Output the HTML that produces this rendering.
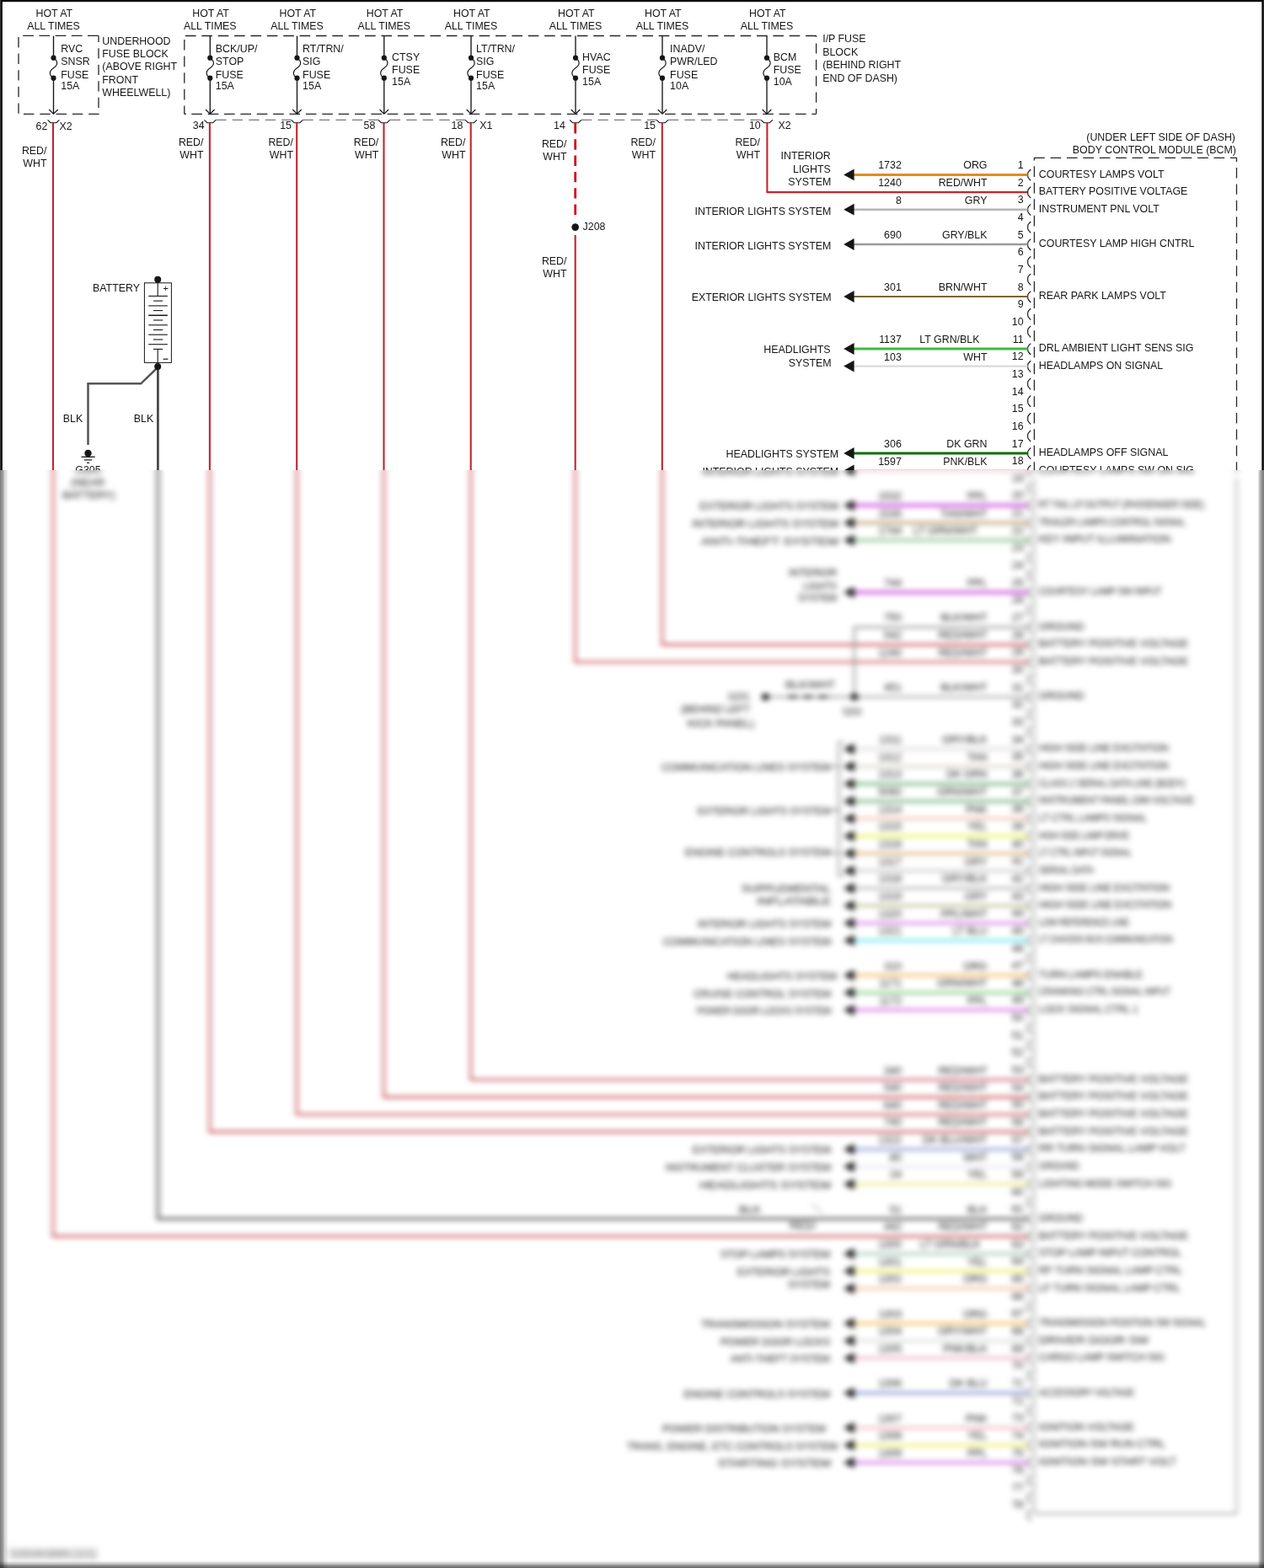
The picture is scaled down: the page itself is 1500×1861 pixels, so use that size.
<!DOCTYPE html>
<html><head><meta charset="utf-8"><title>BCM Wiring Diagram</title>
<style>
html,body{margin:0;padding:0;background:#fff;}
body{width:1500px;height:1861px;position:relative;overflow:hidden;}
svg{position:absolute;left:0;top:0;display:block;}
svg text{font-family:"Liberation Sans",Arial,sans-serif;}
#bl{position:absolute;left:0;top:558px;width:11px;height:1303px;mix-blend-mode:multiply;
  background:linear-gradient(to right,#808080 0.5px,#8a8a8a 1.5px,#969696 2.5px,#a2a2a2 3.5px,#b8b8b8 4.5px,#d4d4d4 5.5px,#dcdcdc 6.5px,#e2e2e2 7.5px,#f0f0f0 8.5px,#f8f8f8 9.5px,#fff 10.5px);}
#br{position:absolute;left:1490px;top:558px;width:10px;height:1303px;mix-blend-mode:multiply;
  background:linear-gradient(to right,#fff 2.2px,#e8e8e8 3.5px,#c8c8c8 4.5px,#b0b0b0 5.5px,#a0a0a0 6.5px,#909090 7.5px,#868686 8.5px,#7f7f7f 9.5px);}
#bb{position:absolute;left:0;top:1850px;width:1500px;height:11px;mix-blend-mode:multiply;
  background:linear-gradient(to bottom,#fff 1.5px,#f8f8f8 2.5px,#f0f0f0 3.5px,#d8d8d8 4.5px,#cccccc 5.5px,#bbbbbb 6.5px,#a0a0a0 7.5px,#8a8a8a 8.5px,#7a7a7a 9.5px,#6e6e6e 10.5px);}
</style></head><body>
<svg width="1500" height="1861" viewBox="0 0 1500 1861">
<defs><clipPath id="ct"><rect x="0" y="0" width="1500" height="558"/></clipPath><clipPath id="cb"><rect x="0" y="558" width="1500" height="1303"/></clipPath><filter id="bf" x="-20" y="-20" width="1540" height="1901" filterUnits="userSpaceOnUse" color-interpolation-filters="sRGB"><feGaussianBlur stdDeviation="3.9 3.3" edgeMode="none"/></filter></defs>
<rect x="0" y="0" width="1500" height="1861" fill="#fff"/>
<g clip-path="url(#ct)">
<g id="all" font-family="Liberation Sans, Arial, sans-serif" font-size="12.4" fill="#161616">
<rect x="0" y="0" width="1500" height="1861" fill="#fff"/>
<line x1="22.0" y1="42.4" x2="117.0" y2="42.4" stroke="#262626" stroke-width="1.3" stroke-dasharray="12.8 6.4" stroke-dashoffset="14.00"/>
<line x1="117.0" y1="42.4" x2="117.0" y2="135.3" stroke="#262626" stroke-width="1.3" stroke-dasharray="12.4 7.1" stroke-dashoffset="4.70"/>
<line x1="22.0" y1="135.3" x2="117.6" y2="135.3" stroke="#262626" stroke-width="1.3" stroke-dasharray="12.4 6.9" stroke-dashoffset="13.30"/>
<line x1="22.0" y1="42.4" x2="22.0" y2="135.3" stroke="#262626" stroke-width="1.3" stroke-dasharray="12.4 7.2" stroke-dashoffset="18.00"/>
<line x1="218.8" y1="42.5" x2="968.6" y2="42.5" stroke="#262626" stroke-width="1.3" stroke-dasharray="12.6 6.77" stroke-dashoffset="18.17"/>
<line x1="968.6" y1="42.5" x2="968.6" y2="135.3" stroke="#262626" stroke-width="1.3" stroke-dasharray="12.1 7.3" stroke-dashoffset="10.50"/>
<line x1="218.8" y1="135.3" x2="968.6" y2="135.3" stroke="#262626" stroke-width="1.3" stroke-dasharray="12.6 6.77" stroke-dashoffset="10.87"/>
<line x1="218.8" y1="42.5" x2="218.8" y2="135.3" stroke="#262626" stroke-width="1.3" stroke-dasharray="12.6 7.0" stroke-dashoffset="15.10"/>
<line x1="218.8" y1="135.3" x2="220.6" y2="135.3" stroke="#262626" stroke-width="1.3"/>
<text x="121.3" y="52.7">UNDERHOOD</text>
<text x="121.3" y="68.2">FUSE BLOCK</text>
<text x="121.3" y="83.4">(ABOVE RIGHT</text>
<text x="121.3" y="98.9">FRONT</text>
<text x="121.3" y="114.3">WHEELWELL)</text>
<text x="976.2" y="50.4">I/P FUSE</text>
<text x="976.2" y="65.8">BLOCK</text>
<text x="976.2" y="81.3">(BEHIND RIGHT</text>
<text x="976.2" y="96.8">END OF DASH)</text>
<line x1="256.2" y1="142.4" x2="345.6" y2="142.4" stroke="#7a7a7a" stroke-width="1.1" stroke-dasharray="12.4 7.1" stroke-dashoffset="0.00"/>
<line x1="359.4" y1="142.4" x2="448.9" y2="142.4" stroke="#7a7a7a" stroke-width="1.1" stroke-dasharray="12.4 7.1" stroke-dashoffset="0.00"/>
<line x1="462.7" y1="142.4" x2="552.1" y2="142.4" stroke="#7a7a7a" stroke-width="1.1" stroke-dasharray="12.4 7.1" stroke-dashoffset="0.00"/>
<line x1="689.9" y1="142.4" x2="779.1" y2="142.4" stroke="#7a7a7a" stroke-width="1.1" stroke-dasharray="12.4 7.1" stroke-dashoffset="0.00"/>
<line x1="792.9" y1="142.4" x2="903.1" y2="142.4" stroke="#7a7a7a" stroke-width="1.1" stroke-dasharray="12.4 7.1" stroke-dashoffset="0.00"/>
<line x1="63.5" y1="42.6" x2="63.5" y2="68.7" stroke="#161616" stroke-width="1.35"/>
<line x1="63.5" y1="92.7" x2="63.5" y2="135.0" stroke="#161616" stroke-width="1.35"/>
<path d="M63.5,68.7 C69.5,72.5 68.5,77.5 63.5,80.7 S57.5,89 63.5,92.7" fill="none" stroke="#161616" stroke-width="1.2"/>
<circle cx="63.5" cy="68.7" r="3.1" fill="#161616"/>
<circle cx="63.5" cy="92.7" r="3.1" fill="#161616"/>
<polyline points="58.2,130.0 63.5,135.2 68.8,130.0" fill="none" stroke="#161616" stroke-width="1.2"/>
<text x="72.3" y="61.7">RVC</text>
<text x="72.3" y="77.2">SNSR</text>
<text x="72.3" y="92.5">FUSE</text>
<text x="72.3" y="106.3">15A</text>
<text x="64.3" y="19.7" text-anchor="middle">HOT AT</text>
<text x="63.5" y="35.0" text-anchor="middle">ALL TIMES</text>
<path d="M56.6,142.4 L60.1,145.7 L66.9,145.7 L70.4,142.4" fill="none" stroke="#161616" stroke-width="1.1"/>
<text x="56.3" y="154.3" text-anchor="end">62</text>
<text x="70.4" y="154.3">X2</text>
<text x="55.5" y="182.7" text-anchor="end">RED/</text>
<text x="55.5" y="197.9" text-anchor="end">WHT</text>
<line x1="249.3" y1="42.6" x2="249.3" y2="68.7" stroke="#161616" stroke-width="1.35"/>
<line x1="249.3" y1="92.7" x2="249.3" y2="135.0" stroke="#161616" stroke-width="1.35"/>
<path d="M249.3,68.7 C255.3,72.5 254.3,77.5 249.3,80.7 S243.3,89 249.3,92.7" fill="none" stroke="#161616" stroke-width="1.2"/>
<circle cx="249.3" cy="68.7" r="3.1" fill="#161616"/>
<circle cx="249.3" cy="92.7" r="3.1" fill="#161616"/>
<polyline points="244.0,130.0 249.3,135.2 254.6,130.0" fill="none" stroke="#161616" stroke-width="1.2"/>
<text x="255.8" y="61.7">BCK/UP/</text>
<text x="255.8" y="77.2">STOP</text>
<text x="255.8" y="92.5">FUSE</text>
<text x="255.8" y="106.3">15A</text>
<text x="250.1" y="19.7" text-anchor="middle">HOT AT</text>
<text x="249.3" y="35.0" text-anchor="middle">ALL TIMES</text>
<path d="M242.4,142.4 L245.9,145.7 L252.7,145.7 L256.2,142.4" fill="none" stroke="#161616" stroke-width="1.1"/>
<text x="242.6" y="153.3" text-anchor="end">34</text>
<text x="241.5" y="173.2" text-anchor="end">RED/</text>
<text x="241.5" y="188.4" text-anchor="end">WHT</text>
<line x1="352.5" y1="42.6" x2="352.5" y2="68.7" stroke="#161616" stroke-width="1.35"/>
<line x1="352.5" y1="92.7" x2="352.5" y2="135.0" stroke="#161616" stroke-width="1.35"/>
<path d="M352.5,68.7 C358.5,72.5 357.5,77.5 352.5,80.7 S346.5,89 352.5,92.7" fill="none" stroke="#161616" stroke-width="1.2"/>
<circle cx="352.5" cy="68.7" r="3.1" fill="#161616"/>
<circle cx="352.5" cy="92.7" r="3.1" fill="#161616"/>
<polyline points="347.2,130.0 352.5,135.2 357.8,130.0" fill="none" stroke="#161616" stroke-width="1.2"/>
<text x="359.1" y="61.7">RT/TRN/</text>
<text x="359.1" y="77.2">SIG</text>
<text x="359.1" y="92.5">FUSE</text>
<text x="359.1" y="106.3">15A</text>
<text x="353.3" y="19.7" text-anchor="middle">HOT AT</text>
<text x="352.5" y="35.0" text-anchor="middle">ALL TIMES</text>
<path d="M345.6,142.4 L349.1,145.7 L355.9,145.7 L359.4,142.4" fill="none" stroke="#161616" stroke-width="1.1"/>
<text x="346.0" y="153.3" text-anchor="end">15</text>
<text x="348.0" y="173.2" text-anchor="end">RED/</text>
<text x="348.0" y="188.4" text-anchor="end">WHT</text>
<line x1="455.8" y1="42.6" x2="455.8" y2="68.7" stroke="#161616" stroke-width="1.35"/>
<line x1="455.8" y1="92.7" x2="455.8" y2="135.0" stroke="#161616" stroke-width="1.35"/>
<path d="M455.8,68.7 C461.8,72.5 460.8,77.5 455.8,80.7 S449.8,89 455.8,92.7" fill="none" stroke="#161616" stroke-width="1.2"/>
<circle cx="455.8" cy="68.7" r="3.1" fill="#161616"/>
<circle cx="455.8" cy="92.7" r="3.1" fill="#161616"/>
<polyline points="450.5,130.0 455.8,135.2 461.1,130.0" fill="none" stroke="#161616" stroke-width="1.2"/>
<text x="465.1" y="71.8">CTSY</text>
<text x="465.1" y="87.3">FUSE</text>
<text x="465.1" y="100.8">15A</text>
<text x="456.6" y="19.7" text-anchor="middle">HOT AT</text>
<text x="455.8" y="35.0" text-anchor="middle">ALL TIMES</text>
<path d="M448.9,142.4 L452.4,145.7 L459.2,145.7 L462.7,142.4" fill="none" stroke="#161616" stroke-width="1.1"/>
<text x="445.3" y="153.3" text-anchor="end">58</text>
<text x="449.3" y="173.2" text-anchor="end">RED/</text>
<text x="449.3" y="188.4" text-anchor="end">WHT</text>
<line x1="559.0" y1="42.6" x2="559.0" y2="68.7" stroke="#161616" stroke-width="1.35"/>
<line x1="559.0" y1="92.7" x2="559.0" y2="135.0" stroke="#161616" stroke-width="1.35"/>
<path d="M559.0,68.7 C565.0,72.5 564.0,77.5 559.0,80.7 S553.0,89 559.0,92.7" fill="none" stroke="#161616" stroke-width="1.2"/>
<circle cx="559.0" cy="68.7" r="3.1" fill="#161616"/>
<circle cx="559.0" cy="92.7" r="3.1" fill="#161616"/>
<polyline points="553.7,130.0 559.0,135.2 564.3,130.0" fill="none" stroke="#161616" stroke-width="1.2"/>
<text x="565.1" y="61.7">LT/TRN/</text>
<text x="565.1" y="77.2">SIG</text>
<text x="565.1" y="92.5">FUSE</text>
<text x="565.1" y="106.3">15A</text>
<text x="559.8" y="19.7" text-anchor="middle">HOT AT</text>
<text x="559.0" y="35.0" text-anchor="middle">ALL TIMES</text>
<path d="M552.1,142.4 L555.6,145.7 L562.4,145.7 L565.9,142.4" fill="none" stroke="#161616" stroke-width="1.1"/>
<text x="549.3" y="153.3" text-anchor="end">18</text>
<text x="569.3" y="153.3">X1</text>
<text x="552.5" y="173.2" text-anchor="end">RED/</text>
<text x="552.5" y="188.4" text-anchor="end">WHT</text>
<line x1="683.0" y1="42.6" x2="683.0" y2="68.7" stroke="#161616" stroke-width="1.35"/>
<line x1="683.0" y1="92.7" x2="683.0" y2="135.0" stroke="#161616" stroke-width="1.35"/>
<path d="M683.0,68.7 C689.0,72.5 688.0,77.5 683.0,80.7 S677.0,89 683.0,92.7" fill="none" stroke="#161616" stroke-width="1.2"/>
<circle cx="683.0" cy="68.7" r="3.1" fill="#161616"/>
<circle cx="683.0" cy="92.7" r="3.1" fill="#161616"/>
<polyline points="677.7,130.0 683.0,135.2 688.3,130.0" fill="none" stroke="#161616" stroke-width="1.2"/>
<text x="691.1" y="71.8">HVAC</text>
<text x="691.1" y="87.3">FUSE</text>
<text x="691.1" y="100.8">15A</text>
<text x="683.8" y="19.7" text-anchor="middle">HOT AT</text>
<text x="683.0" y="35.0" text-anchor="middle">ALL TIMES</text>
<path d="M676.1,142.4 L679.6,145.7 L686.4,145.7 L689.9,142.4" fill="none" stroke="#161616" stroke-width="1.1"/>
<text x="670.8" y="153.3" text-anchor="end">14</text>
<text x="672.5" y="175.0" text-anchor="end">RED/</text>
<text x="672.5" y="190.2" text-anchor="end">WHT</text>
<line x1="786.0" y1="42.6" x2="786.0" y2="68.7" stroke="#161616" stroke-width="1.35"/>
<line x1="786.0" y1="92.7" x2="786.0" y2="135.0" stroke="#161616" stroke-width="1.35"/>
<path d="M786.0,68.7 C792.0,72.5 791.0,77.5 786.0,80.7 S780.0,89 786.0,92.7" fill="none" stroke="#161616" stroke-width="1.2"/>
<circle cx="786.0" cy="68.7" r="3.1" fill="#161616"/>
<circle cx="786.0" cy="92.7" r="3.1" fill="#161616"/>
<polyline points="780.7,130.0 786.0,135.2 791.3,130.0" fill="none" stroke="#161616" stroke-width="1.2"/>
<text x="795.1" y="61.7">INADV/</text>
<text x="795.1" y="77.2">PWR/LED</text>
<text x="795.1" y="92.5">FUSE</text>
<text x="795.1" y="106.3">10A</text>
<text x="786.8" y="19.7" text-anchor="middle">HOT AT</text>
<text x="786.0" y="35.0" text-anchor="middle">ALL TIMES</text>
<path d="M779.1,142.4 L782.6,145.7 L789.4,145.7 L792.9,142.4" fill="none" stroke="#161616" stroke-width="1.1"/>
<text x="778.0" y="153.3" text-anchor="end">15</text>
<text x="778.0" y="173.2" text-anchor="end">RED/</text>
<text x="778.0" y="188.4" text-anchor="end">WHT</text>
<line x1="910.0" y1="42.6" x2="910.0" y2="68.7" stroke="#161616" stroke-width="1.35"/>
<line x1="910.0" y1="92.7" x2="910.0" y2="135.0" stroke="#161616" stroke-width="1.35"/>
<path d="M910.0,68.7 C916.0,72.5 915.0,77.5 910.0,80.7 S904.0,89 910.0,92.7" fill="none" stroke="#161616" stroke-width="1.2"/>
<circle cx="910.0" cy="68.7" r="3.1" fill="#161616"/>
<circle cx="910.0" cy="92.7" r="3.1" fill="#161616"/>
<polyline points="904.7,130.0 910.0,135.2 915.3,130.0" fill="none" stroke="#161616" stroke-width="1.2"/>
<text x="917.8" y="71.8">BCM</text>
<text x="917.8" y="87.3">FUSE</text>
<text x="917.8" y="100.8">10A</text>
<text x="910.8" y="19.7" text-anchor="middle">HOT AT</text>
<text x="910.0" y="35.0" text-anchor="middle">ALL TIMES</text>
<path d="M903.1,142.4 L906.6,145.7 L913.4,145.7 L916.9,142.4" fill="none" stroke="#161616" stroke-width="1.1"/>
<text x="902.7" y="153.3" text-anchor="end">10</text>
<text x="923.5" y="153.3">X2</text>
<text x="902.0" y="173.2" text-anchor="end">RED/</text>
<text x="902.0" y="188.4" text-anchor="end">WHT</text>
<polyline points="63.0,145.7 63.0,1467.4 1219.5,1467.4" fill="none" stroke="#c0262e" stroke-width="2.1"/>
<polyline points="248.9,145.7 248.9,1343.4 1219.5,1343.4" fill="none" stroke="#c0262e" stroke-width="2.1"/>
<polyline points="352.2,145.7 352.2,1322.8 1219.5,1322.8" fill="none" stroke="#c0262e" stroke-width="2.1"/>
<polyline points="455.5,145.7 455.5,1302.1 1219.5,1302.1" fill="none" stroke="#c0262e" stroke-width="2.1"/>
<polyline points="558.7,145.7 558.7,1281.5 1219.5,1281.5" fill="none" stroke="#c0262e" stroke-width="2.1"/>
<polyline points="785.8,145.7 785.8,765.1 1219.5,765.1" fill="none" stroke="#c0262e" stroke-width="2.1"/>
<polyline points="910.4,145.7 910.4,228.1 1219.5,228.1" fill="none" stroke="#c0262e" stroke-width="2.1"/>
<line x1="682.7" y1="146.0" x2="682.7" y2="256.0" stroke="#d0121c" stroke-width="2.8" stroke-dasharray="12.4 6.9"/>
<circle cx="682.7" cy="269.6" r="4.3" fill="#161616"/>
<text x="691.6" y="273.0">J208</text>
<polyline points="682.7,279.0 682.7,785.7 1219.5,785.7" fill="none" stroke="#c0262e" stroke-width="2.1"/>
<text x="672.5" y="313.8" text-anchor="end">RED/</text>
<text x="672.5" y="329.2" text-anchor="end">WHT</text>
<rect x="171.4" y="335.8" width="32" height="94.6" fill="none" stroke="#161616" stroke-width="1"/>
<circle cx="187.2" cy="331.8" r="4.0" fill="#161616"/>
<line x1="187.2" y1="331.8" x2="187.2" y2="351.4" stroke="#161616" stroke-width="1.1"/>
<line x1="176.2" y1="351.4" x2="198.8" y2="351.4" stroke="#161616" stroke-width="1.1"/>
<line x1="182.0" y1="357.1" x2="193.2" y2="357.1" stroke="#161616" stroke-width="1.1"/>
<line x1="176.2" y1="362.9" x2="198.8" y2="362.9" stroke="#161616" stroke-width="1.1"/>
<line x1="182.0" y1="368.6" x2="193.2" y2="368.6" stroke="#161616" stroke-width="1.1"/>
<line x1="176.2" y1="374.3" x2="198.8" y2="374.3" stroke="#161616" stroke-width="1.5"/>
<line x1="182.0" y1="380.0" x2="193.2" y2="380.0" stroke="#161616" stroke-width="1.1"/>
<line x1="176.2" y1="385.8" x2="198.8" y2="385.8" stroke="#161616" stroke-width="1.1"/>
<line x1="182.0" y1="391.5" x2="193.2" y2="391.5" stroke="#161616" stroke-width="1.1"/>
<line x1="176.2" y1="397.2" x2="198.8" y2="397.2" stroke="#161616" stroke-width="1.1"/>
<line x1="182.0" y1="403.0" x2="193.2" y2="403.0" stroke="#161616" stroke-width="1.1"/>
<line x1="176.2" y1="408.7" x2="198.8" y2="408.7" stroke="#161616" stroke-width="1.1"/>
<line x1="182.0" y1="414.4" x2="193.2" y2="414.4" stroke="#161616" stroke-width="1.1"/>
<line x1="187.2" y1="414.4" x2="187.2" y2="430.4" stroke="#161616" stroke-width="1.1"/>
<text x="196.6" y="345.5" text-anchor="middle" font-size="11">+</text>
<line x1="193.6" y1="426.2" x2="199.4" y2="426.2" stroke="#161616" stroke-width="1.2"/>
<text x="166.0" y="345.6" text-anchor="end">BATTERY</text>
<polyline points="187.2,436 167.2,455.3 104.5,455.3 104.5,528" fill="none" stroke="#555555" stroke-width="2.5"/>
<polyline points="187.4,436 187.4,1446.7 1219.5,1446.7" fill="none" stroke="#4a4a4a" stroke-width="2.8"/>
<circle cx="187.2" cy="435.0" r="4.0" fill="#161616"/>
<text x="98.2" y="500.6" text-anchor="end">BLK</text>
<text x="182.2" y="500.6" text-anchor="end">BLK</text>
<circle cx="104.5" cy="538.0" r="4.2" fill="#161616"/>
<line x1="96.5" y1="542.3" x2="112.7" y2="542.3" stroke="#161616" stroke-width="1.3"/>
<line x1="99.8" y1="545.9" x2="109.2" y2="545.9" stroke="#161616" stroke-width="1.2"/>
<line x1="103.0" y1="549.3" x2="106.2" y2="549.3" stroke="#161616" stroke-width="1.2"/>
<text x="104.5" y="562.0" text-anchor="middle">G305</text>
<text x="104.2" y="577.0" text-anchor="middle" textLength="40.0" lengthAdjust="spacingAndGlyphs">(NEAR</text>
<text x="105.5" y="592.4" text-anchor="middle" textLength="62.0" lengthAdjust="spacingAndGlyphs">BATTERY)</text>
<line x1="1227.1" y1="187.3" x2="1467.6" y2="187.3" stroke="#262626" stroke-width="1.3" stroke-dasharray="12.7 6.7" stroke-dashoffset="0.00"/>
<line x1="1227.4" y1="187.3" x2="1227.4" y2="568.0" stroke="#262626" stroke-width="1.3" stroke-dasharray="12.8 6.7" stroke-dashoffset="9.50"/>
<line x1="1467.5" y1="187.3" x2="1467.5" y2="568.0" stroke="#262626" stroke-width="1.3" stroke-dasharray="12.4 7.0" stroke-dashoffset="7.70"/>
<line x1="1227.4" y1="568.0" x2="1227.4" y2="1796.5" stroke="#262626" stroke-width="1.3" stroke-opacity="0.62"/>
<line x1="1467.5" y1="568.0" x2="1467.5" y2="1796.5" stroke="#262626" stroke-width="1.3" stroke-opacity="0.62"/>
<line x1="1227.4" y1="1796.5" x2="1467.5" y2="1796.5" stroke="#262626" stroke-width="1.3" stroke-opacity="0.62"/>
<text x="1466.0" y="167.0" text-anchor="end">(UNDER LEFT SIDE OF DASH)</text>
<text x="1467.0" y="182.4" text-anchor="end">BODY CONTROL MODULE (BCM)</text>
<path d="M1223.2,201.0 L1220.6,203.8 Q1219.7,204.8 1219.7,206.2 L1219.7,209.0 Q1219.7,210.4 1220.6,211.4 L1223.2,214.4" fill="none" stroke="#161616" stroke-width="1.15"/>
<text x="1214.6" y="200.0" text-anchor="end">1</text>
<path d="M1223.2,221.7 L1220.6,224.5 Q1219.7,225.5 1219.7,226.9 L1219.7,229.7 Q1219.7,231.1 1220.6,232.1 L1223.2,235.1" fill="none" stroke="#161616" stroke-width="1.15"/>
<text x="1214.6" y="220.7" text-anchor="end">2</text>
<path d="M1223.2,242.3 L1220.6,245.1 Q1219.7,246.1 1219.7,247.5 L1219.7,250.3 Q1219.7,251.7 1220.6,252.7 L1223.2,255.7" fill="none" stroke="#161616" stroke-width="1.15"/>
<text x="1214.6" y="241.3" text-anchor="end">3</text>
<path d="M1223.2,263.0 L1220.6,265.8 Q1219.7,266.8 1219.7,268.2 L1219.7,271.0 Q1219.7,272.4 1220.6,273.4 L1223.2,276.4" fill="none" stroke="#161616" stroke-width="1.15"/>
<text x="1214.6" y="262.0" text-anchor="end">4</text>
<path d="M1223.2,283.6 L1220.6,286.4 Q1219.7,287.4 1219.7,288.8 L1219.7,291.6 Q1219.7,293.0 1220.6,294.0 L1223.2,297.0" fill="none" stroke="#161616" stroke-width="1.15"/>
<text x="1214.6" y="282.6" text-anchor="end">5</text>
<path d="M1223.2,304.3 L1220.6,307.1 Q1219.7,308.1 1219.7,309.5 L1219.7,312.3 Q1219.7,313.7 1220.6,314.7 L1223.2,317.7" fill="none" stroke="#161616" stroke-width="1.15"/>
<text x="1214.6" y="303.3" text-anchor="end">6</text>
<path d="M1223.2,324.9 L1220.6,327.7 Q1219.7,328.7 1219.7,330.1 L1219.7,332.9 Q1219.7,334.3 1220.6,335.3 L1223.2,338.3" fill="none" stroke="#161616" stroke-width="1.15"/>
<text x="1214.6" y="323.9" text-anchor="end">7</text>
<path d="M1223.2,345.6 L1220.6,348.4 Q1219.7,349.4 1219.7,350.8 L1219.7,353.6 Q1219.7,355.0 1220.6,356.0 L1223.2,359.0" fill="none" stroke="#161616" stroke-width="1.15"/>
<text x="1214.6" y="344.6" text-anchor="end">8</text>
<path d="M1223.2,366.2 L1220.6,369.0 Q1219.7,370.0 1219.7,371.4 L1219.7,374.2 Q1219.7,375.6 1220.6,376.6 L1223.2,379.6" fill="none" stroke="#161616" stroke-width="1.15"/>
<text x="1214.6" y="365.2" text-anchor="end">9</text>
<path d="M1223.2,386.9 L1220.6,389.7 Q1219.7,390.7 1219.7,392.1 L1219.7,394.9 Q1219.7,396.3 1220.6,397.3 L1223.2,400.3" fill="none" stroke="#161616" stroke-width="1.15"/>
<text x="1214.6" y="385.9" text-anchor="end">10</text>
<path d="M1223.2,407.6 L1220.6,410.4 Q1219.7,411.4 1219.7,412.8 L1219.7,415.6 Q1219.7,417.0 1220.6,418.0 L1223.2,421.0" fill="none" stroke="#161616" stroke-width="1.15"/>
<text x="1214.6" y="406.6" text-anchor="end">11</text>
<path d="M1223.2,428.2 L1220.6,431.0 Q1219.7,432.0 1219.7,433.4 L1219.7,436.2 Q1219.7,437.6 1220.6,438.6 L1223.2,441.6" fill="none" stroke="#161616" stroke-width="1.15"/>
<text x="1214.6" y="427.2" text-anchor="end">12</text>
<path d="M1223.2,448.9 L1220.6,451.7 Q1219.7,452.7 1219.7,454.1 L1219.7,456.9 Q1219.7,458.3 1220.6,459.3 L1223.2,462.3" fill="none" stroke="#161616" stroke-width="1.15"/>
<text x="1214.6" y="447.9" text-anchor="end">13</text>
<path d="M1223.2,469.5 L1220.6,472.3 Q1219.7,473.3 1219.7,474.7 L1219.7,477.5 Q1219.7,478.9 1220.6,479.9 L1223.2,482.9" fill="none" stroke="#161616" stroke-width="1.15"/>
<text x="1214.6" y="468.5" text-anchor="end">14</text>
<path d="M1223.2,490.2 L1220.6,493.0 Q1219.7,494.0 1219.7,495.4 L1219.7,498.2 Q1219.7,499.6 1220.6,500.6 L1223.2,503.6" fill="none" stroke="#161616" stroke-width="1.15"/>
<text x="1214.6" y="489.2" text-anchor="end">15</text>
<path d="M1223.2,510.8 L1220.6,513.6 Q1219.7,514.6 1219.7,516.0 L1219.7,518.8 Q1219.7,520.2 1220.6,521.2 L1223.2,524.2" fill="none" stroke="#161616" stroke-width="1.15"/>
<text x="1214.6" y="509.8" text-anchor="end">16</text>
<path d="M1223.2,531.5 L1220.6,534.3 Q1219.7,535.3 1219.7,536.7 L1219.7,539.5 Q1219.7,540.9 1220.6,541.9 L1223.2,544.9" fill="none" stroke="#161616" stroke-width="1.15"/>
<text x="1214.6" y="530.5" text-anchor="end">17</text>
<path d="M1223.2,552.1 L1220.6,554.9 Q1219.7,555.9 1219.7,557.3 L1219.7,560.1 Q1219.7,561.5 1220.6,562.5 L1223.2,565.5" fill="none" stroke="#161616" stroke-width="1.15"/>
<text x="1214.6" y="551.1" text-anchor="end">18</text>
<path d="M1223.2,572.8 L1220.6,575.6 Q1219.7,576.6 1219.7,578.0 L1219.7,580.8 Q1219.7,582.2 1220.6,583.2 L1223.2,586.2" fill="none" stroke="#161616" stroke-width="1.15"/>
<text x="1214.6" y="571.8" text-anchor="end">19</text>
<path d="M1223.2,593.4 L1220.6,596.2 Q1219.7,597.2 1219.7,598.6 L1219.7,601.4 Q1219.7,602.8 1220.6,603.8 L1223.2,606.8" fill="none" stroke="#161616" stroke-width="1.15"/>
<text x="1214.6" y="592.4" text-anchor="end">20</text>
<path d="M1223.2,614.1 L1220.6,616.9 Q1219.7,617.9 1219.7,619.3 L1219.7,622.1 Q1219.7,623.5 1220.6,624.5 L1223.2,627.5" fill="none" stroke="#161616" stroke-width="1.15"/>
<text x="1214.6" y="613.1" text-anchor="end">21</text>
<path d="M1223.2,634.8 L1220.6,637.6 Q1219.7,638.6 1219.7,640.0 L1219.7,642.8 Q1219.7,644.2 1220.6,645.2 L1223.2,648.2" fill="none" stroke="#161616" stroke-width="1.15"/>
<text x="1214.6" y="633.8" text-anchor="end">22</text>
<path d="M1223.2,655.4 L1220.6,658.2 Q1219.7,659.2 1219.7,660.6 L1219.7,663.4 Q1219.7,664.8 1220.6,665.8 L1223.2,668.8" fill="none" stroke="#161616" stroke-width="1.15"/>
<text x="1214.6" y="654.4" text-anchor="end">23</text>
<path d="M1223.2,676.1 L1220.6,678.9 Q1219.7,679.9 1219.7,681.3 L1219.7,684.1 Q1219.7,685.5 1220.6,686.5 L1223.2,689.5" fill="none" stroke="#161616" stroke-width="1.15"/>
<text x="1214.6" y="675.1" text-anchor="end">24</text>
<path d="M1223.2,696.7 L1220.6,699.5 Q1219.7,700.5 1219.7,701.9 L1219.7,704.7 Q1219.7,706.1 1220.6,707.1 L1223.2,710.1" fill="none" stroke="#161616" stroke-width="1.15"/>
<text x="1214.6" y="695.7" text-anchor="end">25</text>
<path d="M1223.2,717.4 L1220.6,720.2 Q1219.7,721.2 1219.7,722.6 L1219.7,725.4 Q1219.7,726.8 1220.6,727.8 L1223.2,730.8" fill="none" stroke="#161616" stroke-width="1.15"/>
<text x="1214.6" y="716.4" text-anchor="end">26</text>
<path d="M1223.2,738.0 L1220.6,740.8 Q1219.7,741.8 1219.7,743.2 L1219.7,746.0 Q1219.7,747.4 1220.6,748.4 L1223.2,751.4" fill="none" stroke="#161616" stroke-width="1.15"/>
<text x="1214.6" y="737.0" text-anchor="end">27</text>
<path d="M1223.2,758.7 L1220.6,761.5 Q1219.7,762.5 1219.7,763.9 L1219.7,766.7 Q1219.7,768.1 1220.6,769.1 L1223.2,772.1" fill="none" stroke="#161616" stroke-width="1.15"/>
<text x="1214.6" y="757.7" text-anchor="end">28</text>
<path d="M1223.2,779.3 L1220.6,782.1 Q1219.7,783.1 1219.7,784.5 L1219.7,787.3 Q1219.7,788.7 1220.6,789.7 L1223.2,792.7" fill="none" stroke="#161616" stroke-width="1.15"/>
<text x="1214.6" y="778.3" text-anchor="end">29</text>
<path d="M1223.2,800.0 L1220.6,802.8 Q1219.7,803.8 1219.7,805.2 L1219.7,808.0 Q1219.7,809.4 1220.6,810.4 L1223.2,813.4" fill="none" stroke="#161616" stroke-width="1.15"/>
<text x="1214.6" y="799.0" text-anchor="end">30</text>
<path d="M1223.2,820.7 L1220.6,823.5 Q1219.7,824.5 1219.7,825.9 L1219.7,828.7 Q1219.7,830.1 1220.6,831.1 L1223.2,834.1" fill="none" stroke="#161616" stroke-width="1.15"/>
<text x="1214.6" y="819.7" text-anchor="end">31</text>
<path d="M1223.2,841.3 L1220.6,844.1 Q1219.7,845.1 1219.7,846.5 L1219.7,849.3 Q1219.7,850.7 1220.6,851.7 L1223.2,854.7" fill="none" stroke="#161616" stroke-width="1.15"/>
<text x="1214.6" y="840.3" text-anchor="end">32</text>
<path d="M1223.2,862.0 L1220.6,864.8 Q1219.7,865.8 1219.7,867.2 L1219.7,870.0 Q1219.7,871.4 1220.6,872.4 L1223.2,875.4" fill="none" stroke="#161616" stroke-width="1.15"/>
<text x="1214.6" y="861.0" text-anchor="end">33</text>
<path d="M1223.2,882.6 L1220.6,885.4 Q1219.7,886.4 1219.7,887.8 L1219.7,890.6 Q1219.7,892.0 1220.6,893.0 L1223.2,896.0" fill="none" stroke="#161616" stroke-width="1.15"/>
<text x="1214.6" y="881.6" text-anchor="end">34</text>
<path d="M1223.2,903.3 L1220.6,906.1 Q1219.7,907.1 1219.7,908.5 L1219.7,911.3 Q1219.7,912.7 1220.6,913.7 L1223.2,916.7" fill="none" stroke="#161616" stroke-width="1.15"/>
<text x="1214.6" y="902.3" text-anchor="end">35</text>
<path d="M1223.2,923.9 L1220.6,926.7 Q1219.7,927.7 1219.7,929.1 L1219.7,931.9 Q1219.7,933.3 1220.6,934.3 L1223.2,937.3" fill="none" stroke="#161616" stroke-width="1.15"/>
<text x="1214.6" y="922.9" text-anchor="end">36</text>
<path d="M1223.2,944.6 L1220.6,947.4 Q1219.7,948.4 1219.7,949.8 L1219.7,952.6 Q1219.7,954.0 1220.6,955.0 L1223.2,958.0" fill="none" stroke="#161616" stroke-width="1.15"/>
<text x="1214.6" y="943.6" text-anchor="end">37</text>
<path d="M1223.2,965.2 L1220.6,968.0 Q1219.7,969.0 1219.7,970.4 L1219.7,973.2 Q1219.7,974.6 1220.6,975.6 L1223.2,978.6" fill="none" stroke="#161616" stroke-width="1.15"/>
<text x="1214.6" y="964.2" text-anchor="end">38</text>
<path d="M1223.2,985.9 L1220.6,988.7 Q1219.7,989.7 1219.7,991.1 L1219.7,993.9 Q1219.7,995.3 1220.6,996.3 L1223.2,999.3" fill="none" stroke="#161616" stroke-width="1.15"/>
<text x="1214.6" y="984.9" text-anchor="end">39</text>
<path d="M1223.2,1006.5 L1220.6,1009.3 Q1219.7,1010.3 1219.7,1011.7 L1219.7,1014.5 Q1219.7,1015.9 1220.6,1016.9 L1223.2,1019.9" fill="none" stroke="#161616" stroke-width="1.15"/>
<text x="1214.6" y="1005.5" text-anchor="end">40</text>
<path d="M1223.2,1027.2 L1220.6,1030.0 Q1219.7,1031.0 1219.7,1032.4 L1219.7,1035.2 Q1219.7,1036.6 1220.6,1037.6 L1223.2,1040.6" fill="none" stroke="#161616" stroke-width="1.15"/>
<text x="1214.6" y="1026.2" text-anchor="end">41</text>
<path d="M1223.2,1047.9 L1220.6,1050.7 Q1219.7,1051.7 1219.7,1053.1 L1219.7,1055.9 Q1219.7,1057.3 1220.6,1058.3 L1223.2,1061.3" fill="none" stroke="#161616" stroke-width="1.15"/>
<text x="1214.6" y="1046.9" text-anchor="end">42</text>
<path d="M1223.2,1068.5 L1220.6,1071.3 Q1219.7,1072.3 1219.7,1073.7 L1219.7,1076.5 Q1219.7,1077.9 1220.6,1078.9 L1223.2,1081.9" fill="none" stroke="#161616" stroke-width="1.15"/>
<text x="1214.6" y="1067.5" text-anchor="end">43</text>
<path d="M1223.2,1089.2 L1220.6,1092.0 Q1219.7,1093.0 1219.7,1094.4 L1219.7,1097.2 Q1219.7,1098.6 1220.6,1099.6 L1223.2,1102.6" fill="none" stroke="#161616" stroke-width="1.15"/>
<text x="1214.6" y="1088.2" text-anchor="end">44</text>
<path d="M1223.2,1109.8 L1220.6,1112.6 Q1219.7,1113.6 1219.7,1115.0 L1219.7,1117.8 Q1219.7,1119.2 1220.6,1120.2 L1223.2,1123.2" fill="none" stroke="#161616" stroke-width="1.15"/>
<text x="1214.6" y="1108.8" text-anchor="end">45</text>
<path d="M1223.2,1130.5 L1220.6,1133.3 Q1219.7,1134.3 1219.7,1135.7 L1219.7,1138.5 Q1219.7,1139.9 1220.6,1140.9 L1223.2,1143.9" fill="none" stroke="#161616" stroke-width="1.15"/>
<text x="1214.6" y="1129.5" text-anchor="end">46</text>
<path d="M1223.2,1151.1 L1220.6,1153.9 Q1219.7,1154.9 1219.7,1156.3 L1219.7,1159.1 Q1219.7,1160.5 1220.6,1161.5 L1223.2,1164.5" fill="none" stroke="#161616" stroke-width="1.15"/>
<text x="1214.6" y="1150.1" text-anchor="end">47</text>
<path d="M1223.2,1171.8 L1220.6,1174.6 Q1219.7,1175.6 1219.7,1177.0 L1219.7,1179.8 Q1219.7,1181.2 1220.6,1182.2 L1223.2,1185.2" fill="none" stroke="#161616" stroke-width="1.15"/>
<text x="1214.6" y="1170.8" text-anchor="end">48</text>
<path d="M1223.2,1192.4 L1220.6,1195.2 Q1219.7,1196.2 1219.7,1197.6 L1219.7,1200.4 Q1219.7,1201.8 1220.6,1202.8 L1223.2,1205.8" fill="none" stroke="#161616" stroke-width="1.15"/>
<text x="1214.6" y="1191.4" text-anchor="end">49</text>
<path d="M1223.2,1213.1 L1220.6,1215.9 Q1219.7,1216.9 1219.7,1218.3 L1219.7,1221.1 Q1219.7,1222.5 1220.6,1223.5 L1223.2,1226.5" fill="none" stroke="#161616" stroke-width="1.15"/>
<text x="1214.6" y="1212.1" text-anchor="end">50</text>
<path d="M1223.2,1233.8 L1220.6,1236.6 Q1219.7,1237.6 1219.7,1239.0 L1219.7,1241.8 Q1219.7,1243.2 1220.6,1244.2 L1223.2,1247.2" fill="none" stroke="#161616" stroke-width="1.15"/>
<text x="1214.6" y="1232.8" text-anchor="end">51</text>
<path d="M1223.2,1254.4 L1220.6,1257.2 Q1219.7,1258.2 1219.7,1259.6 L1219.7,1262.4 Q1219.7,1263.8 1220.6,1264.8 L1223.2,1267.8" fill="none" stroke="#161616" stroke-width="1.15"/>
<text x="1214.6" y="1253.4" text-anchor="end">52</text>
<path d="M1223.2,1275.1 L1220.6,1277.9 Q1219.7,1278.9 1219.7,1280.3 L1219.7,1283.1 Q1219.7,1284.5 1220.6,1285.5 L1223.2,1288.5" fill="none" stroke="#161616" stroke-width="1.15"/>
<text x="1214.6" y="1274.1" text-anchor="end">53</text>
<path d="M1223.2,1295.7 L1220.6,1298.5 Q1219.7,1299.5 1219.7,1300.9 L1219.7,1303.7 Q1219.7,1305.1 1220.6,1306.1 L1223.2,1309.1" fill="none" stroke="#161616" stroke-width="1.15"/>
<text x="1214.6" y="1294.7" text-anchor="end">54</text>
<path d="M1223.2,1316.4 L1220.6,1319.2 Q1219.7,1320.2 1219.7,1321.6 L1219.7,1324.4 Q1219.7,1325.8 1220.6,1326.8 L1223.2,1329.8" fill="none" stroke="#161616" stroke-width="1.15"/>
<text x="1214.6" y="1315.4" text-anchor="end">55</text>
<path d="M1223.2,1337.0 L1220.6,1339.8 Q1219.7,1340.8 1219.7,1342.2 L1219.7,1345.0 Q1219.7,1346.4 1220.6,1347.4 L1223.2,1350.4" fill="none" stroke="#161616" stroke-width="1.15"/>
<text x="1214.6" y="1336.0" text-anchor="end">56</text>
<path d="M1223.2,1357.7 L1220.6,1360.5 Q1219.7,1361.5 1219.7,1362.9 L1219.7,1365.7 Q1219.7,1367.1 1220.6,1368.1 L1223.2,1371.1" fill="none" stroke="#161616" stroke-width="1.15"/>
<text x="1214.6" y="1356.7" text-anchor="end">57</text>
<path d="M1223.2,1378.3 L1220.6,1381.1 Q1219.7,1382.1 1219.7,1383.5 L1219.7,1386.3 Q1219.7,1387.7 1220.6,1388.7 L1223.2,1391.7" fill="none" stroke="#161616" stroke-width="1.15"/>
<text x="1214.6" y="1377.3" text-anchor="end">58</text>
<path d="M1223.2,1399.0 L1220.6,1401.8 Q1219.7,1402.8 1219.7,1404.2 L1219.7,1407.0 Q1219.7,1408.4 1220.6,1409.4 L1223.2,1412.4" fill="none" stroke="#161616" stroke-width="1.15"/>
<text x="1214.6" y="1398.0" text-anchor="end">59</text>
<path d="M1223.2,1419.6 L1220.6,1422.4 Q1219.7,1423.4 1219.7,1424.8 L1219.7,1427.6 Q1219.7,1429.0 1220.6,1430.0 L1223.2,1433.0" fill="none" stroke="#161616" stroke-width="1.15"/>
<text x="1214.6" y="1418.6" text-anchor="end">60</text>
<path d="M1223.2,1440.3 L1220.6,1443.1 Q1219.7,1444.1 1219.7,1445.5 L1219.7,1448.3 Q1219.7,1449.7 1220.6,1450.7 L1223.2,1453.7" fill="none" stroke="#161616" stroke-width="1.15"/>
<text x="1214.6" y="1439.3" text-anchor="end">61</text>
<path d="M1223.2,1461.0 L1220.6,1463.8 Q1219.7,1464.8 1219.7,1466.2 L1219.7,1469.0 Q1219.7,1470.4 1220.6,1471.4 L1223.2,1474.4" fill="none" stroke="#161616" stroke-width="1.15"/>
<text x="1214.6" y="1460.0" text-anchor="end">62</text>
<path d="M1223.2,1481.6 L1220.6,1484.4 Q1219.7,1485.4 1219.7,1486.8 L1219.7,1489.6 Q1219.7,1491.0 1220.6,1492.0 L1223.2,1495.0" fill="none" stroke="#161616" stroke-width="1.15"/>
<text x="1214.6" y="1480.6" text-anchor="end">63</text>
<path d="M1223.2,1502.3 L1220.6,1505.1 Q1219.7,1506.1 1219.7,1507.5 L1219.7,1510.3 Q1219.7,1511.7 1220.6,1512.7 L1223.2,1515.7" fill="none" stroke="#161616" stroke-width="1.15"/>
<text x="1214.6" y="1501.3" text-anchor="end">64</text>
<path d="M1223.2,1522.9 L1220.6,1525.7 Q1219.7,1526.7 1219.7,1528.1 L1219.7,1530.9 Q1219.7,1532.3 1220.6,1533.3 L1223.2,1536.3" fill="none" stroke="#161616" stroke-width="1.15"/>
<text x="1214.6" y="1521.9" text-anchor="end">65</text>
<path d="M1223.2,1543.6 L1220.6,1546.4 Q1219.7,1547.4 1219.7,1548.8 L1219.7,1551.6 Q1219.7,1553.0 1220.6,1554.0 L1223.2,1557.0" fill="none" stroke="#161616" stroke-width="1.15"/>
<text x="1214.6" y="1542.6" text-anchor="end">66</text>
<path d="M1223.2,1564.2 L1220.6,1567.0 Q1219.7,1568.0 1219.7,1569.4 L1219.7,1572.2 Q1219.7,1573.6 1220.6,1574.6 L1223.2,1577.6" fill="none" stroke="#161616" stroke-width="1.15"/>
<text x="1214.6" y="1563.2" text-anchor="end">67</text>
<path d="M1223.2,1584.9 L1220.6,1587.7 Q1219.7,1588.7 1219.7,1590.1 L1219.7,1592.9 Q1219.7,1594.3 1220.6,1595.3 L1223.2,1598.3" fill="none" stroke="#161616" stroke-width="1.15"/>
<text x="1214.6" y="1583.9" text-anchor="end">68</text>
<path d="M1223.2,1605.5 L1220.6,1608.3 Q1219.7,1609.3 1219.7,1610.7 L1219.7,1613.5 Q1219.7,1614.9 1220.6,1615.9 L1223.2,1618.9" fill="none" stroke="#161616" stroke-width="1.15"/>
<text x="1214.6" y="1604.5" text-anchor="end">69</text>
<path d="M1223.2,1626.2 L1220.6,1629.0 Q1219.7,1630.0 1219.7,1631.4 L1219.7,1634.2 Q1219.7,1635.6 1220.6,1636.6 L1223.2,1639.6" fill="none" stroke="#161616" stroke-width="1.15"/>
<text x="1214.6" y="1625.2" text-anchor="end">70</text>
<path d="M1223.2,1646.9 L1220.6,1649.7 Q1219.7,1650.7 1219.7,1652.1 L1219.7,1654.9 Q1219.7,1656.3 1220.6,1657.3 L1223.2,1660.3" fill="none" stroke="#161616" stroke-width="1.15"/>
<text x="1214.6" y="1645.9" text-anchor="end">71</text>
<path d="M1223.2,1667.5 L1220.6,1670.3 Q1219.7,1671.3 1219.7,1672.7 L1219.7,1675.5 Q1219.7,1676.9 1220.6,1677.9 L1223.2,1680.9" fill="none" stroke="#161616" stroke-width="1.15"/>
<text x="1214.6" y="1666.5" text-anchor="end">72</text>
<path d="M1223.2,1688.2 L1220.6,1691.0 Q1219.7,1692.0 1219.7,1693.4 L1219.7,1696.2 Q1219.7,1697.6 1220.6,1698.6 L1223.2,1701.6" fill="none" stroke="#161616" stroke-width="1.15"/>
<text x="1214.6" y="1687.2" text-anchor="end">73</text>
<path d="M1223.2,1708.8 L1220.6,1711.6 Q1219.7,1712.6 1219.7,1714.0 L1219.7,1716.8 Q1219.7,1718.2 1220.6,1719.2 L1223.2,1722.2" fill="none" stroke="#161616" stroke-width="1.15"/>
<text x="1214.6" y="1707.8" text-anchor="end">74</text>
<path d="M1223.2,1729.5 L1220.6,1732.3 Q1219.7,1733.3 1219.7,1734.7 L1219.7,1737.5 Q1219.7,1738.9 1220.6,1739.9 L1223.2,1742.9" fill="none" stroke="#161616" stroke-width="1.15"/>
<text x="1214.6" y="1728.5" text-anchor="end">75</text>
<path d="M1223.2,1750.1 L1220.6,1752.9 Q1219.7,1753.9 1219.7,1755.3 L1219.7,1758.1 Q1219.7,1759.5 1220.6,1760.5 L1223.2,1763.5" fill="none" stroke="#161616" stroke-width="1.15"/>
<text x="1214.6" y="1749.1" text-anchor="end">76</text>
<path d="M1223.2,1770.8 L1220.6,1773.6 Q1219.7,1774.6 1219.7,1776.0 L1219.7,1778.8 Q1219.7,1780.2 1220.6,1781.2 L1223.2,1784.2" fill="none" stroke="#161616" stroke-width="1.15"/>
<text x="1214.6" y="1769.8" text-anchor="end">77</text>
<path d="M1223.2,1791.4 L1220.6,1794.2 Q1219.7,1795.2 1219.7,1796.6 L1219.7,1799.4 Q1219.7,1800.8 1220.6,1801.8 L1223.2,1804.8" fill="none" stroke="#161616" stroke-width="1.15"/>
<text x="1214.6" y="1790.4" text-anchor="end">78</text>
<line x1="1013.0" y1="207.4" x2="1219.6" y2="207.4" stroke="#e08c22" stroke-width="3.0"/>
<path d="M1001.2,207.4 L1013.6,200.5 L1013.6,214.3 Z" fill="#161616"/>
<text x="1069.8" y="200.4" text-anchor="end">1732</text>
<text x="1171.5" y="200.4" text-anchor="end">ORG</text>
<text x="1232.8" y="210.6">COURTESY LAMPS VOLT</text>
<text x="985.8" y="188.7" text-anchor="end">INTERIOR</text>
<text x="985.8" y="205.0" text-anchor="end">LIGHTS</text>
<text x="986.3" y="220.1" text-anchor="end">SYSTEM</text>
<text x="1069.8" y="221.1" text-anchor="end">1240</text>
<text x="1171.5" y="221.1" text-anchor="end">RED/WHT</text>
<text x="1232.8" y="231.3">BATTERY POSITIVE VOLTAGE</text>
<line x1="1013.0" y1="248.7" x2="1219.6" y2="248.7" stroke="#b4b4b4" stroke-width="2.4"/>
<path d="M1001.2,248.7 L1013.6,241.8 L1013.6,255.6 Z" fill="#161616"/>
<text x="1069.8" y="241.7" text-anchor="end">8</text>
<text x="1171.5" y="241.7" text-anchor="end">GRY</text>
<text x="1232.8" y="251.9">INSTRUMENT PNL VOLT</text>
<text x="986.3" y="254.7" text-anchor="end">INTERIOR LIGHTS SYSTEM</text>
<line x1="1013.0" y1="290.0" x2="1219.6" y2="290.0" stroke="#9a9a9a" stroke-width="2.4"/>
<path d="M1001.2,290.0 L1013.6,283.1 L1013.6,296.9 Z" fill="#161616"/>
<text x="1069.8" y="283.0" text-anchor="end">690</text>
<text x="1171.5" y="283.0" text-anchor="end">GRY/BLK</text>
<text x="1232.8" y="293.2">COURTESY LAMP HIGH CNTRL</text>
<text x="986.3" y="295.8" text-anchor="end">INTERIOR LIGHTS SYSTEM</text>
<line x1="1013.0" y1="352.0" x2="1219.6" y2="352.0" stroke="#7a6530" stroke-width="2.2"/>
<path d="M1001.2,352.0 L1013.6,345.1 L1013.6,358.9 Z" fill="#161616"/>
<text x="1069.8" y="345.0" text-anchor="end">301</text>
<text x="1171.5" y="345.0" text-anchor="end">BRN/WHT</text>
<text x="1232.8" y="355.2">REAR PARK LAMPS VOLT</text>
<text x="986.6" y="357.2" text-anchor="end">EXTERIOR LIGHTS SYSTEM</text>
<line x1="1013.0" y1="414.0" x2="1219.6" y2="414.0" stroke="#3cba3c" stroke-width="3.0"/>
<path d="M1001.2,414.0 L1013.6,407.1 L1013.6,420.9 Z" fill="#161616"/>
<text x="1069.8" y="407.0" text-anchor="end">1137</text>
<text x="1091.3" y="407.0">LT GRN/BLK</text>
<text x="1232.8" y="417.2">DRL AMBIENT LIGHT SENS SIG</text>
<text x="985.5" y="419.3" text-anchor="end">HEADLIGHTS</text>
<line x1="1013.0" y1="434.6" x2="1219.6" y2="434.6" stroke="#d9d9d9" stroke-width="2.4"/>
<path d="M1001.2,434.6 L1013.6,427.7 L1013.6,441.5 Z" fill="#161616"/>
<text x="1069.8" y="427.6" text-anchor="end">103</text>
<text x="1171.5" y="427.6" text-anchor="end">WHT</text>
<text x="1232.8" y="437.8">HEADLAMPS ON SIGNAL</text>
<text x="986.6" y="434.6" text-anchor="end">SYSTEM</text>
<line x1="1013.0" y1="537.9" x2="1219.6" y2="537.9" stroke="#0b6e0b" stroke-width="3.0"/>
<path d="M1001.2,537.9 L1013.6,531.0 L1013.6,544.8 Z" fill="#161616"/>
<text x="1069.8" y="530.9" text-anchor="end">306</text>
<text x="1171.5" y="530.9" text-anchor="end">DK GRN</text>
<text x="1232.8" y="541.1">HEADLAMPS OFF SIGNAL</text>
<text x="995.2" y="543.2" text-anchor="end">HEADLIGHTS SYSTEM</text>
<line x1="1013.0" y1="558.5" x2="1219.6" y2="558.5" stroke="#e8a8b8" stroke-width="2.2"/>
<path d="M1001.2,558.5 L1013.6,551.6 L1013.6,565.4 Z" fill="#161616"/>
<text x="1069.8" y="551.5" text-anchor="end">1597</text>
<text x="1171.5" y="551.5" text-anchor="end">PNK/BLK</text>
<text x="1232.8" y="561.7">COURTESY LAMPS SW ON SIG</text>
<text x="995.2" y="563.8" text-anchor="end">INTERIOR LIGHTS SYSTEM</text>
<line x1="1013.0" y1="599.8" x2="1219.6" y2="599.8" stroke="#c42ad8" stroke-width="3.0"/>
<path d="M1001.2,599.8 L1013.6,592.9 L1013.6,606.7 Z" fill="#161616"/>
<text x="1069.8" y="592.8" text-anchor="end">1532</text>
<text x="1171.5" y="592.8" text-anchor="end">PPL</text>
<text x="1232.8" y="603.0" textLength="196.0" lengthAdjust="spacingAndGlyphs">RT TAIL LP OUTPUT (PASSENGER SIDE)</text>
<text x="830.6" y="605.1" textLength="164.4" lengthAdjust="spacingAndGlyphs">EXTERIOR LIGHTS SYSTEM</text>
<line x1="1013.0" y1="620.5" x2="1219.6" y2="620.5" stroke="#b89868" stroke-width="3.0"/>
<path d="M1001.2,620.5 L1013.6,613.6 L1013.6,627.4 Z" fill="#161616"/>
<text x="1069.8" y="613.5" text-anchor="end">1535</text>
<text x="1171.5" y="613.5" text-anchor="end">TAN/WHT</text>
<text x="1232.8" y="623.7" textLength="173.9" lengthAdjust="spacingAndGlyphs">TRAILER LAMPS CONTROL SIGNAL</text>
<text x="821.4" y="625.8" textLength="173.6" lengthAdjust="spacingAndGlyphs">INTERIOR LIGHTS SYSTEM</text>
<line x1="1013.0" y1="641.2" x2="1219.6" y2="641.2" stroke="#70b878" stroke-width="2.8"/>
<path d="M1001.2,641.2 L1013.6,634.3 L1013.6,648.1 Z" fill="#161616"/>
<text x="1069.8" y="634.2" text-anchor="end">1744</text>
<text x="1084.0" y="634.2">LT GRN/WHT</text>
<text x="1232.8" y="644.4" textLength="156.2" lengthAdjust="spacingAndGlyphs">KEY INPUT ILLUMINATION</text>
<text x="832.0" y="646.5" textLength="163.0" lengthAdjust="spacingAndGlyphs">ANTI-THEFT SYSTEM</text>
<line x1="1013.0" y1="703.1" x2="1219.6" y2="703.1" stroke="#c42ad8" stroke-width="3.0"/>
<path d="M1001.2,703.1 L1013.6,696.2 L1013.6,710.0 Z" fill="#161616"/>
<text x="1069.8" y="696.1" text-anchor="end">744</text>
<text x="1171.5" y="696.1" text-anchor="end">PPL</text>
<text x="1232.8" y="706.3" textLength="145.8" lengthAdjust="spacingAndGlyphs">COURTESY LAMP SW INPUT</text>
<text x="936.0" y="684.4" textLength="57.0" lengthAdjust="spacingAndGlyphs">INTERIOR</text>
<text x="953.0" y="699.7" textLength="40.0" lengthAdjust="spacingAndGlyphs">LIGHTS</text>
<text x="947.0" y="713.9" textLength="46.0" lengthAdjust="spacingAndGlyphs">SYSTEM</text>
<text x="1069.8" y="737.4" text-anchor="end">750</text>
<text x="1171.5" y="737.4" text-anchor="end">BLK/WHT</text>
<text x="1232.8" y="747.6" textLength="53.6" lengthAdjust="spacingAndGlyphs">GROUND</text>
<text x="1069.8" y="758.1" text-anchor="end">542</text>
<text x="1171.5" y="758.1" text-anchor="end">RED/WHT</text>
<text x="1232.8" y="768.3" textLength="177.2" lengthAdjust="spacingAndGlyphs">BATTERY POSITIVE VOLTAGE</text>
<text x="1069.8" y="778.7" text-anchor="end">1240</text>
<text x="1171.5" y="778.7" text-anchor="end">RED/WHT</text>
<text x="1232.8" y="788.9" textLength="177.2" lengthAdjust="spacingAndGlyphs">BATTERY POSITIVE VOLTAGE</text>
<text x="1069.8" y="820.1" text-anchor="end">451</text>
<text x="1171.5" y="820.1" text-anchor="end">BLK/WHT</text>
<text x="1232.8" y="830.3" textLength="53.6" lengthAdjust="spacingAndGlyphs">GROUND</text>
<line x1="1013.0" y1="889.0" x2="1219.6" y2="889.0" stroke="#d8d0d0" stroke-width="2.6"/>
<path d="M1001.2,889.0 L1013.6,882.1 L1013.6,895.9 Z" fill="#161616"/>
<text x="1069.8" y="882.0" text-anchor="end">1311</text>
<text x="1171.5" y="882.0" text-anchor="end">GRY/BLK</text>
<text x="1232.8" y="892.2" textLength="153.9" lengthAdjust="spacingAndGlyphs">HIGH SIDE LINE EXCITATION</text>
<line x1="1013.0" y1="909.7" x2="1219.6" y2="909.7" stroke="#d4ccc0" stroke-width="2.6"/>
<path d="M1001.2,909.7 L1013.6,902.8 L1013.6,916.6 Z" fill="#161616"/>
<text x="1069.8" y="902.7" text-anchor="end">1312</text>
<text x="1171.5" y="902.7" text-anchor="end">TAN</text>
<text x="1232.8" y="912.9" textLength="153.9" lengthAdjust="spacingAndGlyphs">HIGH SIDE LINE EXCITATION</text>
<text x="785.0" y="915.0" textLength="201.0" lengthAdjust="spacingAndGlyphs">COMMUNICATION LINES SYSTEM</text>
<line x1="1013.0" y1="930.3" x2="1219.6" y2="930.3" stroke="#4a9e5a" stroke-width="2.6"/>
<path d="M1001.2,930.3 L1013.6,923.4 L1013.6,937.2 Z" fill="#161616"/>
<text x="1069.8" y="923.3" text-anchor="end">1313</text>
<text x="1171.5" y="923.3" text-anchor="end">DK GRN</text>
<text x="1232.8" y="933.5" textLength="173.9" lengthAdjust="spacingAndGlyphs">CLASS 2 SERIAL DATA LINE (BODY)</text>
<line x1="1013.0" y1="951.0" x2="1219.6" y2="951.0" stroke="#4a9e5a" stroke-width="2.6"/>
<path d="M1001.2,951.0 L1013.6,944.1 L1013.6,957.9 Z" fill="#161616"/>
<text x="1069.8" y="944.0" text-anchor="end">5060</text>
<text x="1171.5" y="944.0" text-anchor="end">GRN/WHT</text>
<text x="1232.8" y="954.2" textLength="184.2" lengthAdjust="spacingAndGlyphs">INSTRUMENT PANEL DIM VOLTAGE</text>
<text x="828.0" y="967.0" textLength="158.0" lengthAdjust="spacingAndGlyphs">EXTERIOR LIGHTS SYSTEM</text>
<line x1="1013.0" y1="971.6" x2="1219.6" y2="971.6" stroke="#f4b8a8" stroke-width="2.6"/>
<path d="M1001.2,971.6 L1013.6,964.7 L1013.6,978.5 Z" fill="#161616"/>
<text x="1069.8" y="964.6" text-anchor="end">1314</text>
<text x="1171.5" y="964.6" text-anchor="end">PNK</text>
<text x="1232.8" y="974.8" textLength="128.2" lengthAdjust="spacingAndGlyphs">LT CTRL LAMPS SIGNAL</text>
<line x1="1013.0" y1="992.3" x2="1219.6" y2="992.3" stroke="#e8f020" stroke-width="2.6"/>
<path d="M1001.2,992.3 L1013.6,985.4 L1013.6,999.2 Z" fill="#161616"/>
<text x="1069.8" y="985.3" text-anchor="end">1315</text>
<text x="1171.5" y="985.3" text-anchor="end">YEL</text>
<text x="1232.8" y="995.5" textLength="107.2" lengthAdjust="spacingAndGlyphs">HIGH SIDE LAMP DRIVE</text>
<line x1="1013.0" y1="1012.9" x2="1219.6" y2="1012.9" stroke="#d8a868" stroke-width="2.6"/>
<path d="M1001.2,1012.9 L1013.6,1006.0 L1013.6,1019.8 Z" fill="#161616"/>
<text x="1069.8" y="1005.9" text-anchor="end">1316</text>
<text x="1171.5" y="1005.9" text-anchor="end">TAN</text>
<text x="1232.8" y="1016.1" textLength="109.7" lengthAdjust="spacingAndGlyphs">LT CTRL INPUT SIGNAL</text>
<text x="813.0" y="1015.9" textLength="173.0" lengthAdjust="spacingAndGlyphs">ENGINE CONTROLS SYSTEM</text>
<line x1="1013.0" y1="1033.6" x2="1219.6" y2="1033.6" stroke="#c4c4c4" stroke-width="2.6"/>
<path d="M1001.2,1033.6 L1013.6,1026.7 L1013.6,1040.5 Z" fill="#161616"/>
<text x="1069.8" y="1026.6" text-anchor="end">1317</text>
<text x="1171.5" y="1026.6" text-anchor="end">GRY</text>
<text x="1232.8" y="1036.8" textLength="65.2" lengthAdjust="spacingAndGlyphs">SERIAL DATA</text>
<line x1="1013.0" y1="1054.3" x2="1219.6" y2="1054.3" stroke="#a8a8a8" stroke-width="2.6"/>
<path d="M1001.2,1054.3 L1013.6,1047.4 L1013.6,1061.2 Z" fill="#161616"/>
<text x="1069.8" y="1047.3" text-anchor="end">1318</text>
<text x="1171.5" y="1047.3" text-anchor="end">GRY/BLK</text>
<text x="1232.8" y="1057.5" textLength="155.2" lengthAdjust="spacingAndGlyphs">HIGH SIDE LINE EXCITATION</text>
<text x="880.0" y="1059.3" textLength="106.0" lengthAdjust="spacingAndGlyphs">SUPPLEMENTAL</text>
<line x1="1013.0" y1="1074.9" x2="1219.6" y2="1074.9" stroke="#b8b888" stroke-width="2.6"/>
<path d="M1001.2,1074.9 L1013.6,1068.0 L1013.6,1081.8 Z" fill="#161616"/>
<text x="1069.8" y="1067.9" text-anchor="end">1319</text>
<text x="1171.5" y="1067.9" text-anchor="end">GRY</text>
<text x="1232.8" y="1078.1" textLength="157.2" lengthAdjust="spacingAndGlyphs">HIGH SIDE LINE EXCITATION</text>
<text x="898.0" y="1074.4" textLength="88.0" lengthAdjust="spacingAndGlyphs">INFLATABLE</text>
<line x1="1013.0" y1="1095.6" x2="1219.6" y2="1095.6" stroke="#d070e8" stroke-width="2.6"/>
<path d="M1001.2,1095.6 L1013.6,1088.7 L1013.6,1102.5 Z" fill="#161616"/>
<text x="1069.8" y="1088.6" text-anchor="end">1320</text>
<text x="1171.5" y="1088.6" text-anchor="end">PPL/WHT</text>
<text x="1232.8" y="1098.8" textLength="107.2" lengthAdjust="spacingAndGlyphs">LOW REFERENCE LINE</text>
<text x="828.0" y="1100.9" textLength="158.0" lengthAdjust="spacingAndGlyphs">INTERIOR LIGHTS SYSTEM</text>
<line x1="1013.0" y1="1116.2" x2="1219.6" y2="1116.2" stroke="#40e4ec" stroke-width="2.6"/>
<path d="M1001.2,1116.2 L1013.6,1109.3 L1013.6,1123.1 Z" fill="#161616"/>
<text x="1069.8" y="1109.2" text-anchor="end">1321</text>
<text x="1171.5" y="1109.2" text-anchor="end">LT BLU</text>
<text x="1232.8" y="1119.4" textLength="158.7" lengthAdjust="spacingAndGlyphs">LT CHASSIS BUS COMMUNICATION</text>
<text x="786.7" y="1121.5" textLength="199.3" lengthAdjust="spacingAndGlyphs">COMMUNICATION LINES SYSTEM</text>
<line x1="1013.0" y1="1157.5" x2="1219.6" y2="1157.5" stroke="#f0a848" stroke-width="2.6"/>
<path d="M1001.2,1157.5 L1013.6,1150.6 L1013.6,1164.4 Z" fill="#161616"/>
<text x="1069.8" y="1150.5" text-anchor="end">310</text>
<text x="1171.5" y="1150.5" text-anchor="end">ORG</text>
<text x="1232.8" y="1160.7" textLength="123.2" lengthAdjust="spacingAndGlyphs">TURN LAMPS ENABLE</text>
<text x="863.0" y="1162.8" textLength="130.0" lengthAdjust="spacingAndGlyphs">HEADLIGHTS SYSTEM</text>
<line x1="1013.0" y1="1178.2" x2="1219.6" y2="1178.2" stroke="#68c068" stroke-width="2.6"/>
<path d="M1001.2,1178.2 L1013.6,1171.3 L1013.6,1185.1 Z" fill="#161616"/>
<text x="1069.8" y="1171.2" text-anchor="end">1171</text>
<text x="1171.5" y="1171.2" text-anchor="end">GRN/WHT</text>
<text x="1232.8" y="1181.4" textLength="156.2" lengthAdjust="spacingAndGlyphs">CRANKING CTRL SIGNAL INPUT</text>
<text x="823.0" y="1183.5" textLength="163.0" lengthAdjust="spacingAndGlyphs">CRUISE CONTROL SYSTEM</text>
<line x1="1013.0" y1="1198.8" x2="1219.6" y2="1198.8" stroke="#d050e0" stroke-width="2.6"/>
<path d="M1001.2,1198.8 L1013.6,1191.9 L1013.6,1205.7 Z" fill="#161616"/>
<text x="1069.8" y="1191.8" text-anchor="end">1172</text>
<text x="1171.5" y="1191.8" text-anchor="end">PPL</text>
<text x="1232.8" y="1202.0" textLength="117.7" lengthAdjust="spacingAndGlyphs">LOCK SIGNAL CTRL 1</text>
<text x="827.0" y="1204.1" textLength="159.0" lengthAdjust="spacingAndGlyphs">POWER DOOR LOCKS SYSTEM</text>
<text x="1069.8" y="1274.5" text-anchor="end">340</text>
<text x="1171.5" y="1274.5" text-anchor="end">RED/WHT</text>
<text x="1232.8" y="1284.7" textLength="177.2" lengthAdjust="spacingAndGlyphs">BATTERY POSITIVE VOLTAGE</text>
<text x="1069.8" y="1295.1" text-anchor="end">540</text>
<text x="1171.5" y="1295.1" text-anchor="end">RED/WHT</text>
<text x="1232.8" y="1305.3" textLength="177.2" lengthAdjust="spacingAndGlyphs">BATTERY POSITIVE VOLTAGE</text>
<text x="1069.8" y="1315.8" text-anchor="end">640</text>
<text x="1171.5" y="1315.8" text-anchor="end">RED/WHT</text>
<text x="1232.8" y="1326.0" textLength="177.2" lengthAdjust="spacingAndGlyphs">BATTERY POSITIVE VOLTAGE</text>
<text x="1069.8" y="1336.4" text-anchor="end">740</text>
<text x="1171.5" y="1336.4" text-anchor="end">RED/WHT</text>
<text x="1232.8" y="1346.6" textLength="177.2" lengthAdjust="spacingAndGlyphs">BATTERY POSITIVE VOLTAGE</text>
<line x1="1013.0" y1="1364.1" x2="1219.6" y2="1364.1" stroke="#8090d0" stroke-width="2.6"/>
<path d="M1001.2,1364.1 L1013.6,1357.2 L1013.6,1371.0 Z" fill="#161616"/>
<text x="1069.8" y="1357.1" text-anchor="end">1322</text>
<text x="1095.0" y="1357.1">DK BLU/WHT</text>
<text x="1232.8" y="1367.3" textLength="173.9" lengthAdjust="spacingAndGlyphs">RR TURN SIGNAL LAMP VOLT</text>
<text x="822.0" y="1369.4" textLength="164.0" lengthAdjust="spacingAndGlyphs">EXTERIOR LIGHTS SYSTEM</text>
<line x1="1013.0" y1="1384.7" x2="1219.6" y2="1384.7" stroke="#e4e4ec" stroke-width="2.6"/>
<path d="M1001.2,1384.7 L1013.6,1377.8 L1013.6,1391.6 Z" fill="#161616"/>
<text x="1069.8" y="1377.7" text-anchor="end">80</text>
<text x="1171.5" y="1377.7" text-anchor="end">WHT</text>
<text x="1232.8" y="1387.9" textLength="47.8" lengthAdjust="spacingAndGlyphs">GROUND</text>
<text x="790.0" y="1390.0" textLength="196.0" lengthAdjust="spacingAndGlyphs">INSTRUMENT CLUSTER SYSTEM</text>
<line x1="1013.0" y1="1405.4" x2="1219.6" y2="1405.4" stroke="#e8e880" stroke-width="2.6"/>
<path d="M1001.2,1405.4 L1013.6,1398.5 L1013.6,1412.3 Z" fill="#161616"/>
<text x="1069.8" y="1398.4" text-anchor="end">24</text>
<text x="1171.5" y="1398.4" text-anchor="end">YEL</text>
<text x="1232.8" y="1408.6" textLength="157.2" lengthAdjust="spacingAndGlyphs">LIGHTING MODE SWITCH SIG</text>
<text x="830.0" y="1410.7" textLength="156.0" lengthAdjust="spacingAndGlyphs">HEADLIGHTS SYSTEM</text>
<text x="1069.8" y="1439.7" text-anchor="end">51</text>
<text x="1171.5" y="1439.7" text-anchor="end">BLK</text>
<text x="1232.8" y="1449.9" textLength="52.2" lengthAdjust="spacingAndGlyphs">GROUND</text>
<text x="1069.8" y="1460.4" text-anchor="end">442</text>
<text x="1171.5" y="1460.4" text-anchor="end">RED/WHT</text>
<text x="1232.8" y="1470.6" textLength="177.2" lengthAdjust="spacingAndGlyphs">BATTERY POSITIVE VOLTAGE</text>
<line x1="1013.0" y1="1488.0" x2="1219.6" y2="1488.0" stroke="#90c0a8" stroke-width="2.6"/>
<path d="M1001.2,1488.0 L1013.6,1481.1 L1013.6,1494.9 Z" fill="#161616"/>
<text x="1069.8" y="1481.0" text-anchor="end">1300</text>
<text x="1092.0" y="1481.0">LT GRN/BLK</text>
<text x="1232.8" y="1491.2" textLength="169.2" lengthAdjust="spacingAndGlyphs">STOP LAMP INPUT CONTROL</text>
<text x="855.0" y="1493.3" textLength="130.0" lengthAdjust="spacingAndGlyphs">STOP LAMPS SYSTEM</text>
<line x1="1013.0" y1="1508.7" x2="1219.6" y2="1508.7" stroke="#eaea40" stroke-width="2.6"/>
<path d="M1001.2,1508.7 L1013.6,1501.8 L1013.6,1515.6 Z" fill="#161616"/>
<text x="1069.8" y="1501.7" text-anchor="end">1301</text>
<text x="1171.5" y="1501.7" text-anchor="end">YEL</text>
<text x="1232.8" y="1511.9" textLength="170.2" lengthAdjust="spacingAndGlyphs">RF TURN SIGNAL LAMP CTRL</text>
<text x="875.0" y="1514.0" textLength="110.0" lengthAdjust="spacingAndGlyphs">EXTERIOR LIGHTS</text>
<line x1="1013.0" y1="1529.3" x2="1219.6" y2="1529.3" stroke="#f4b088" stroke-width="2.6"/>
<path d="M1001.2,1529.3 L1013.6,1522.4 L1013.6,1536.2 Z" fill="#161616"/>
<text x="1069.8" y="1522.3" text-anchor="end">1302</text>
<text x="1171.5" y="1522.3" text-anchor="end">ORG</text>
<text x="1232.8" y="1532.5" textLength="167.8" lengthAdjust="spacingAndGlyphs">LF TURN SIGNAL LAMP CTRL</text>
<text x="935.0" y="1528.8" textLength="50.0" lengthAdjust="spacingAndGlyphs">SYSTEM</text>
<line x1="1013.0" y1="1570.6" x2="1219.6" y2="1570.6" stroke="#f0b448" stroke-width="2.6"/>
<path d="M1001.2,1570.6 L1013.6,1563.7 L1013.6,1577.5 Z" fill="#161616"/>
<text x="1069.8" y="1563.6" text-anchor="end">1303</text>
<text x="1171.5" y="1563.6" text-anchor="end">ORG</text>
<text x="1232.8" y="1573.8" textLength="198.2" lengthAdjust="spacingAndGlyphs">TRANSMISSION POSITION SW SIGNAL</text>
<text x="831.7" y="1575.9" textLength="153.3" lengthAdjust="spacingAndGlyphs">TRANSMISSION SYSTEM</text>
<line x1="1013.0" y1="1591.3" x2="1219.6" y2="1591.3" stroke="#d4d4d4" stroke-width="2.6"/>
<path d="M1001.2,1591.3 L1013.6,1584.4 L1013.6,1598.2 Z" fill="#161616"/>
<text x="1069.8" y="1584.3" text-anchor="end">1304</text>
<text x="1171.5" y="1584.3" text-anchor="end">GRY/WHT</text>
<text x="1232.8" y="1594.5" textLength="130.2" lengthAdjust="spacingAndGlyphs">DRIVER DOOR SW</text>
<text x="855.0" y="1596.6" textLength="130.0" lengthAdjust="spacingAndGlyphs">POWER DOOR LOCKS</text>
<line x1="1013.0" y1="1611.9" x2="1219.6" y2="1611.9" stroke="#f0a8bc" stroke-width="2.6"/>
<path d="M1001.2,1611.9 L1013.6,1605.0 L1013.6,1618.8 Z" fill="#161616"/>
<text x="1069.8" y="1604.9" text-anchor="end">1305</text>
<text x="1171.5" y="1604.9" text-anchor="end">PNK/BLK</text>
<text x="1232.8" y="1615.1" textLength="149.2" lengthAdjust="spacingAndGlyphs">CARGO LAMP SWITCH SIG</text>
<text x="866.7" y="1617.2" textLength="118.3" lengthAdjust="spacingAndGlyphs">ANTI-THEFT SYSTEM</text>
<line x1="1013.0" y1="1653.3" x2="1219.6" y2="1653.3" stroke="#6878c8" stroke-width="2.6"/>
<path d="M1001.2,1653.3 L1013.6,1646.4 L1013.6,1660.2 Z" fill="#161616"/>
<text x="1069.8" y="1646.3" text-anchor="end">1306</text>
<text x="1171.5" y="1646.3" text-anchor="end">DK BLU</text>
<text x="1232.8" y="1656.5" textLength="113.2" lengthAdjust="spacingAndGlyphs">ACCESSORY VOLTAGE</text>
<text x="811.7" y="1658.6" textLength="173.3" lengthAdjust="spacingAndGlyphs">ENGINE CONTROLS SYSTEM</text>
<line x1="1013.0" y1="1694.6" x2="1219.6" y2="1694.6" stroke="#f4b0bc" stroke-width="2.6"/>
<path d="M1001.2,1694.6 L1013.6,1687.7 L1013.6,1701.5 Z" fill="#161616"/>
<text x="1069.8" y="1687.6" text-anchor="end">1307</text>
<text x="1171.5" y="1687.6" text-anchor="end">PNK</text>
<text x="1232.8" y="1697.8" textLength="113.2" lengthAdjust="spacingAndGlyphs">IGNITION VOLTAGE</text>
<text x="786.0" y="1699.9" textLength="194.0" lengthAdjust="spacingAndGlyphs">POWER DISTRIBUTION SYSTEM</text>
<line x1="1013.0" y1="1715.2" x2="1219.6" y2="1715.2" stroke="#eaea48" stroke-width="2.6"/>
<path d="M1001.2,1715.2 L1013.6,1708.3 L1013.6,1722.1 Z" fill="#161616"/>
<text x="1069.8" y="1708.2" text-anchor="end">1308</text>
<text x="1171.5" y="1708.2" text-anchor="end">YEL</text>
<text x="1232.8" y="1718.4" textLength="150.2" lengthAdjust="spacingAndGlyphs">IGNITION SW RUN CTRL</text>
<text x="744.0" y="1720.5" textLength="250.0" lengthAdjust="spacingAndGlyphs">TRANS, ENGINE, ETC CONTROLS SYSTEM</text>
<line x1="1013.0" y1="1735.9" x2="1219.6" y2="1735.9" stroke="#d060e4" stroke-width="2.6"/>
<path d="M1001.2,1735.9 L1013.6,1729.0 L1013.6,1742.8 Z" fill="#161616"/>
<text x="1069.8" y="1728.9" text-anchor="end">1309</text>
<text x="1171.5" y="1728.9" text-anchor="end">PPL</text>
<text x="1232.8" y="1739.1" textLength="163.2" lengthAdjust="spacingAndGlyphs">IGNITION SW START VOLT</text>
<text x="852.0" y="1741.2" textLength="134.0" lengthAdjust="spacingAndGlyphs">STARTING SYSTEM</text>
<polyline points="1219.6,744.4 1013.9,744.4 1013.9,827.1" fill="none" stroke="#8c8c8c" stroke-width="2.2"/>
<line x1="908.3" y1="827.1" x2="1219.6" y2="827.1" stroke="#9a9a9a" stroke-width="2.2"/>
<line x1="935.5" y1="827.1" x2="990" y2="827.1" stroke="#161616" stroke-width="3" stroke-dasharray="10.5 7.5"/>
<circle cx="908.3" cy="827.1" r="4.3" fill="#161616"/>
<circle cx="1013.9" cy="827.1" r="4.3" fill="#161616"/>
<text x="932.3" y="816.7" textLength="58.7" lengthAdjust="spacingAndGlyphs">BLK/WHT</text>
<text x="864.0" y="831.4" textLength="25.5" lengthAdjust="spacingAndGlyphs">G201</text>
<text x="808.0" y="845.6" textLength="82.0" lengthAdjust="spacingAndGlyphs">(BEHIND LEFT</text>
<text x="816.0" y="862.6" textLength="79.0" lengthAdjust="spacingAndGlyphs">KICK PANEL)</text>
<text x="1000.0" y="848.9" textLength="22.0" lengthAdjust="spacingAndGlyphs">S203</text>
<polyline points="1001,881.0 995.5,881.0 995.5,1039.6 1001,1039.6" fill="none" stroke="#161616" stroke-width="1"/>
<line x1="987.0" y1="909.7" x2="995.5" y2="909.7" stroke="#161616" stroke-width="1"/>
<line x1="987.0" y1="961.3" x2="995.5" y2="961.3" stroke="#161616" stroke-width="1"/>
<line x1="987.0" y1="1012.5" x2="995.5" y2="1012.5" stroke="#161616" stroke-width="1"/>
<text x="877.0" y="1440.2" textLength="26.0" lengthAdjust="spacingAndGlyphs">BLK</text>
<text x="937.0" y="1459.2" textLength="31.0" lengthAdjust="spacingAndGlyphs">RED/</text>
<rect x="8" y="1836" width="108" height="16" fill="#ececec"/>
<text x="13.3" y="1848.0" textLength="101.0" lengthAdjust="spacingAndGlyphs" fill="#777" font-size="10">G00463889 (1/1)</text>
<line x1="963.0" y1="1428.0" x2="976.0" y2="1440.0" stroke="#aaa" stroke-width="1.2"/>
</g>
</g>
<g clip-path="url(#cb)"><use href="#all" filter="url(#bf)"/></g>
<rect x="0" y="0" width="1500" height="2.2" fill="#0a0a0a"/>
<rect x="0" y="0" width="2.9" height="558" fill="#0a0a0a"/>
<rect x="0" y="0" width="0.9" height="558" fill="#3c3c3c"/>
<rect x="1497.3" y="0" width="2.7" height="558" fill="#0a0a0a"/>
<rect x="1499.2" y="0" width="0.8" height="558" fill="#333"/>
</svg>
<div id="bl"></div><div id="br"></div><div id="bb"></div>
</body></html>
